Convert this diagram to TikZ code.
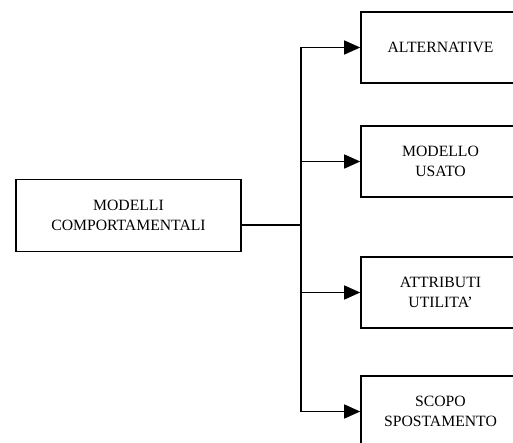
\documentclass[tikz,border=0pt]{standalone}
\usepackage{fontspec}
\setmainfont{Liberation Serif}
\usetikzlibrary{arrows.meta}
\begin{document}
\begin{tikzpicture}[x=1pt,y=-1pt,
  box/.style={draw,line width=1.6pt,rectangle,align=center,inner sep=0pt,
    font=\fontsize{15.7}{20.5}\selectfont},
  conn/.style={line width=1.4pt},
  arr/.style={conn,-{Triangle[length=16pt,width=14pt]}}]
\useasboundingbox (0,0) rectangle (513,443);
\clip (0,0) rectangle (513,443);
\node[box,minimum width=225pt,minimum height=72pt] (L) at (128.5,215.5) {MODELLI\\COMPORTAMENTALI};
\node[box,minimum width=159pt,minimum height=71pt] (A) at (440.5,47.5) {ALTERNATIVE};
\node[box,minimum width=159pt,minimum height=71pt] (B) at (440.5,161.5) {MODELLO\\USATO};
\node[box,minimum width=159pt,minimum height=71pt] (C) at (440.5,292.5) {ATTRIBUTI\\UTILITA’};
\node[box,minimum width=159pt,minimum height=71pt] (D) at (440.5,411.5) {SCOPO\\SPOSTAMENTO};
\coordinate (J) at (301,225);
\draw[conn] (L.east |- J) -- (J);
\draw[arr] (J) |- (A.west);
\draw[arr] (J) |- (B.west);
\draw[arr] (J) |- (C.west);
\draw[arr] (J) |- (D.west);
\end{tikzpicture}
\end{document}
